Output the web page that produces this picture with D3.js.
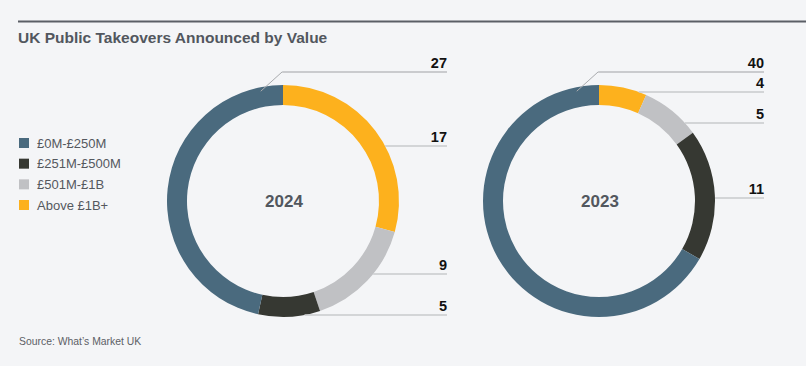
<!DOCTYPE html>
<html><head><meta charset="utf-8">
<script src="https://cdn.jsdelivr.net/npm/d3@7"></script>
<style>
html,body{margin:0;padding:0;background:#f4f5f7;}
svg{display:block;font-family:"Liberation Sans",Arial,sans-serif;}
</style></head>
<body><svg id="chart" width="806" height="366"></svg>
<script>
// ---- data ----
const categories = ["£0M-£250M", "£251M-£500M", "£501M-£1B", "Above £1B+"];
const colors = ["#4a6a7e", "#363832", "#c0c1c4", "#fdb11d"];
const years = ["2024", "2023"];
const values2024 = [27, 5, 9, 17];
const values2023 = [40, 11, 5, 4];
const title = "UK Public Takeovers Announced by Value";
const source = "Source: What\u2019s Market UK";

// ---- layout (annotation placement, not data) ----
const charts = [
  {year: years[0], values: values2024, cx: 283, cy: 201, labelRight: 447,
   labelY: {0: 72, 1: 315, 2: 274, 3: 146}},
  {year: years[1], values: values2023, cx: 599, cy: 201, labelRight: 764,
   labelY: {0: 72, 1: 198, 2: 123, 3: 92}}
];
const rOuter = 116, rInner = 96;

const svg = d3.select("#chart");
svg.append("line").attr("x1", 18).attr("x2", 806).attr("y1", 21.5).attr("y2", 21.5)
  .attr("stroke", "#5b5f66").attr("stroke-width", 2);
svg.append("text").attr("x", 18).attr("y", 43).text(title)
  .attr("font-size", 15.5).attr("font-weight", "bold").attr("fill", "#52575e");
svg.append("text").attr("x", 19).attr("y", 345).text(source)
  .attr("font-size", 10.4).attr("fill", "#5c6066");

// legend
const color = d3.scaleOrdinal().domain(categories).range(colors);
const legY = d3.scalePoint().domain(categories).range([143, 205]);
const leg = svg.append("g").selectAll("g").data(categories).join("g")
  .attr("transform", d => `translate(19,${legY(d)})`);
leg.append("rect").attr("x", 0).attr("y", -5).attr("width", 10).attr("height", 10)
  .attr("fill", d => color(d));
leg.append("text").attr("x", 18).attr("y", 4.5).text(d => d)
  .attr("font-size", 13).attr("fill", "#54585e");

// donuts: clockwise from top in reverse legend order
const pie = d3.pie().sort(null).value(d => d.v);
const arc = d3.arc().innerRadius(rInner).outerRadius(rOuter);

charts.forEach(ch => {
  const items = categories.map((c, i) => ({c, i, v: ch.values[i]})).reverse();
  const arcs = pie(items);
  const g = svg.append("g").attr("transform", `translate(${ch.cx},${ch.cy})`);
  g.selectAll("path").data(arcs).join("path")
    .attr("d", arc).attr("fill", d => color(d.data.c));
  g.append("text").attr("x", 1).attr("y", 6).attr("text-anchor", "middle")
    .text(ch.year).attr("font-size", 17).attr("font-weight", "bold").attr("fill", "#52575e");

  arcs.forEach(a => {
    const ly = ch.labelY[a.data.i];
    const right = ch.labelRight - ch.cx;
    const yy = ly - ch.cy;
    if (a.data.i === 0) {
      // leader from the top end of the largest slice
      const ang = a.endAngle - 0.2;
      const px = Math.sin(ang) * (rOuter - 4), py = -Math.cos(ang) * (rOuter - 4);
      g.append("path")
        .attr("d", `M${px},${py}L${-1},${yy}L${right},${yy}`)
        .attr("fill", "none").attr("stroke", "#a9abae").attr("stroke-width", 1);
      g.append("line").attr("x1", 0).attr("x2", right).attr("y1", yy).attr("y2", yy)
        .attr("stroke", "#c9cacd").attr("stroke-width", 1.5);
    } else {
      const x0 = Math.sqrt(Math.max(0, rOuter * rOuter - yy * yy));
      g.append("line").attr("x1", x0).attr("x2", right).attr("y1", yy).attr("y2", yy)
        .attr("stroke", "#c9cacd").attr("stroke-width", 1.5);
    }
    g.append("text").attr("x", right).attr("y", yy - 4).attr("text-anchor", "end")
      .text(a.data.v).attr("font-size", 14.5).attr("font-weight", "bold").attr("fill", "#111");
  });
});
</script></body></html>
